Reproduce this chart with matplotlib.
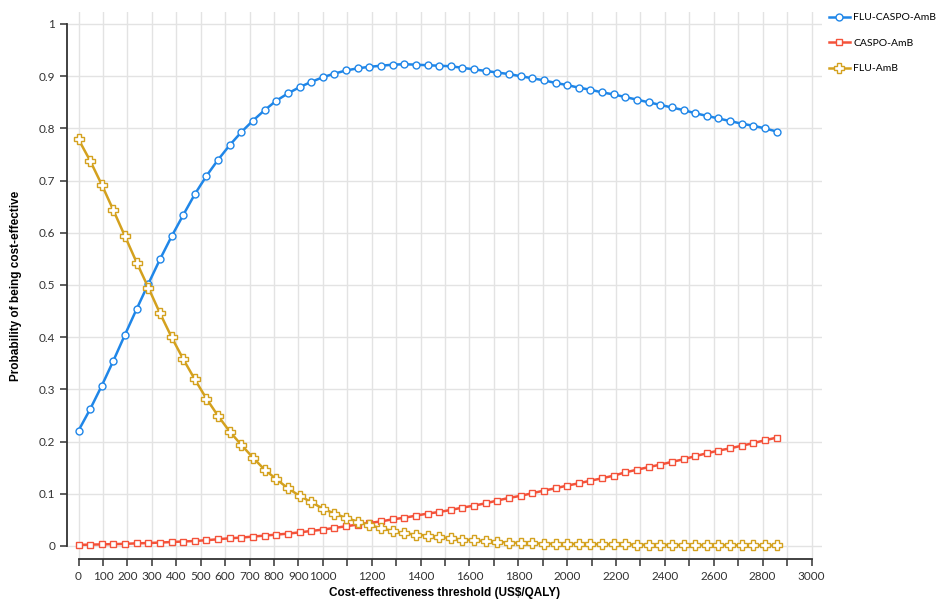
import numpy as np
import matplotlib
matplotlib.use("Agg")
import matplotlib.pyplot as plt

# thresholds: 61 evenly spaced points from 0 to ~2857 US$/QALY
thresholds = np.arange(61) * (2857 / 60)

flu_caspo_amb = [
    0.221, 0.262, 0.307, 0.355, 0.405, 0.454, 0.502, 0.549, 0.593, 0.634,
    0.674, 0.709, 0.740, 0.768, 0.793, 0.815, 0.835, 0.853, 0.867, 0.879,
    0.889, 0.898, 0.905, 0.911, 0.915, 0.918, 0.920, 0.922, 0.923, 0.922,
    0.921, 0.920, 0.919, 0.916, 0.913, 0.910, 0.907, 0.904, 0.900, 0.896,
    0.892, 0.887, 0.883, 0.878, 0.874, 0.869, 0.865, 0.860, 0.855, 0.850,
    0.845, 0.840, 0.835, 0.829, 0.824, 0.819, 0.814, 0.809, 0.805, 0.800,
    0.794,
]
caspo_amb = [
    0.002, 0.0025, 0.003, 0.0035, 0.004, 0.005, 0.0055, 0.0065, 0.0075, 0.0085,
    0.0095, 0.011, 0.0128, 0.0147, 0.016, 0.018, 0.0198, 0.0217, 0.0236, 0.026,
    0.0287, 0.0313, 0.0345, 0.0377, 0.041, 0.044, 0.047, 0.051, 0.054, 0.058,
    0.062, 0.065, 0.069, 0.0734, 0.0773, 0.0817, 0.087, 0.092, 0.096, 0.101,
    0.106, 0.1105, 0.1156, 0.120, 0.125, 0.1296, 0.1347, 0.141, 0.146, 0.151,
    0.1558, 0.161, 0.166, 0.172, 0.1775, 0.1826, 0.187, 0.192, 0.197, 0.2025,
    0.2075,
]
flu_amb = [
    0.779, 0.738, 0.692, 0.643, 0.593, 0.543, 0.495, 0.446, 0.400, 0.358,
    0.319, 0.282, 0.249, 0.219, 0.1935, 0.169, 0.146, 0.128, 0.1105, 0.096,
    0.084, 0.0715, 0.062, 0.0536, 0.0466, 0.040, 0.034, 0.0287, 0.0243, 0.0217,
    0.0198, 0.0172, 0.0147, 0.012, 0.011, 0.009, 0.0077, 0.0064, 0.0057, 0.005,
    0.0045, 0.0042, 0.004, 0.0037, 0.0035, 0.0032, 0.003, 0.0028, 0.0026, 0.0022,
    0.002, 0.002, 0.0018, 0.0017, 0.0016, 0.0015, 0.0014, 0.0013, 0.0012, 0.0011,
    0.001,
]

series = [
    ("FLU-CASPO-AmB", flu_caspo_amb, "#1f86e8", "o", 5),
    ("CASPO-AmB", caspo_amb, "#f4523a", "s", 4.3),
    ("FLU-AmB", flu_amb, "#d4a11e", "P", 7),
]

plt.rcParams["font.family"] = ["Lato", "DejaVu Sans"]

fig = plt.figure(figsize=(9.4, 5.99), dpi=100)
ax = fig.add_axes([0.0713, 0.0668, 0.8032, 0.9132])

for label, vals, color, marker, ms in series:
    ax.plot(thresholds, vals, color=color, lw=1.8, marker=marker, ms=ms,
            mfc="white", mec=color, mew=1.0, label=label, zorder=3)

ax.set_xlim(-47, 3043)
ax.set_ylim(-0.025, 1.023)

xt = np.arange(0, 3001, 100)
ax.set_xticks(xt)
ax.set_xticklabels([str(v) if (v <= 1000 or v % 200 == 0) else "" for v in xt])
yt = np.round(np.arange(0, 1.01, 0.1), 1)
ax.set_yticks(yt)
ax.set_yticklabels(["0" if v == 0 else ("1" if v == 1 else f"{v:g}") for v in yt])

ax.grid(True, color="#e3e3e3", lw=1, zorder=0)
ax.set_axisbelow(True)

for s in ("top", "right"):
    ax.spines[s].set_visible(False)
ax.spines["bottom"].set_bounds(0, 3000)
ax.spines["left"].set_bounds(0, 1)
for s in ("bottom", "left"):
    ax.spines[s].set_color("#333333")
    ax.spines[s].set_linewidth(1.3)

ax.tick_params(axis="both", colors="#333333", labelsize=8.5, length=5, width=1.1)
ax.tick_params(axis="x", pad=4)

ax.set_xlabel("Cost-effectiveness threshold (US$/QALY)", family="Liberation Sans",
              fontweight="bold", fontsize=8.5, labelpad=3)
ax.set_ylabel("Probability of being cost-effective", family="Liberation Sans",
              fontweight="bold", fontsize=8.5, labelpad=12)

fig.legend(loc="upper left", bbox_to_anchor=(0.882, 0.978), frameon=False,
           fontsize=7.5, handlelength=2.0, labelspacing=1.55, handletextpad=0.3,
           borderaxespad=0, borderpad=0)

fig.savefig("out.png", dpi=100)
